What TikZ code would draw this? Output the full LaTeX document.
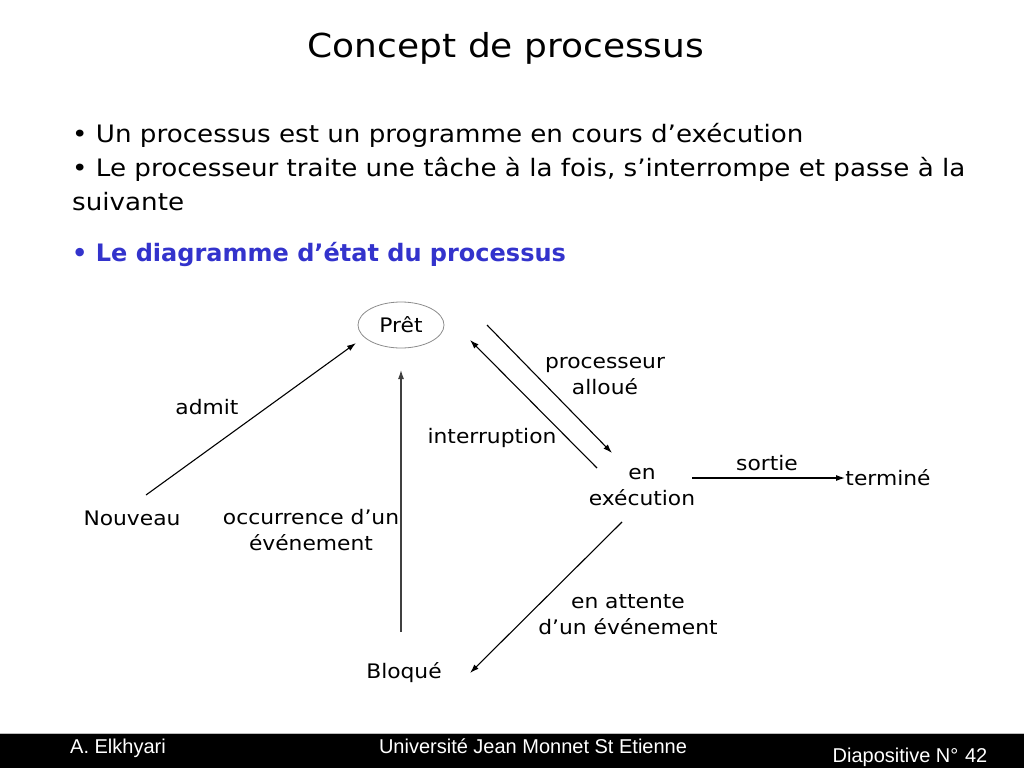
\documentclass[tikz,border=0pt]{standalone}
\usepackage{fontspec}
\setmainfont{DejaVu Sans}[FakeStretch=1.09]
\newfontfamily\grasfont{DejaVu Sans}
\newfontfamily\footfont{Liberation Sans}
\usetikzlibrary{shapes.geometric,arrows.meta}
\definecolor{titreblue}{RGB}{51,51,204}
\definecolor{ellgray}{RGB}{140,140,140}
\definecolor{barline}{RGB}{190,190,190}
\begin{document}
\begin{tikzpicture}[x=1pt,y=-1pt,
  etat/.style={font=\fontsize{20}{26}\selectfont,align=center,inner sep=0pt},
  trans/.style={-{Latex[length=9pt,width=6pt]},line width=1.1pt},
  puce/.style={anchor=base west,inner sep=0pt,font=\fontsize{24}{24}\selectfont},
  pied/.style={anchor=base,inner sep=0pt,text=white,font=\footfont\fontsize{20}{20}\selectfont}]
\useasboundingbox (0,0) rectangle (1024,768);
\node [anchor=base,inner sep=0pt,font=\fontsize{33}{33}\selectfont] (titre) at (506,57) {Concept de processus};
\node [puce] (l1) at (72,142) {• Un processus est un programme en cours d’exécution};
\node [puce] (l2) at (72,176) {• Le processeur traite une tâche à la fois, s’interrompe et passe à la};
\node [puce] (l3) at (72,210) {suivante};
\node [puce,text=titreblue,font=\grasfont\bfseries\fontsize{24}{24}\selectfont] (l4) at (72,261) {• Le diagramme d’état du processus};

\node [etat,ellipse,draw=ellgray,line width=0.8pt,minimum width=86pt,minimum height=46pt] (pret) at (401,325) {Prêt};
\node [etat] (nouveau) at (132,518) {Nouveau};
\node [etat] (exec) at (642,487) {en\\exécution};
\node [etat] (termine) at (888,478) {terminé};
\node [etat] (bloque) at (404,673) {Bloqué};

\node [etat] (admit) at (207,407) {admit};
\node [etat] (alloue) at (605,376) {processeur\\alloué};
\node [etat] (interr) at (492,438) {interruption};
\node [etat] (sortie) at (767,463) {sortie};
\node [etat] (occur) at (311,530) {occurrence d’un\\événement};
\node [etat] (attente) at (628,615) {en attente\\d’un événement};

\draw [trans] ([shift={(14,-23)}]nouveau.center) -- ([shift={(-45,18)}]pret.center);
\draw [trans] ([shift={(86,0)}]pret.center) -- ([shift={(-30,-34)}]exec.center);
\draw [trans] ([shift={(-45,-19)}]exec.center) -- ([shift={(69,15)}]pret.center);
\draw [trans] ([shift={(50,-9)}]exec.center) -- ([shift={(-43,0)}]termine.center);
\draw [trans] ([shift={(-20,35)}]exec.center) -- ([shift={(66,0)}]bloque.center);
\draw [trans,draw=black!75] ([shift={(-3,-41)}]bloque.center) -- ([shift={(0,45)}]pret.center);

\fill (0,733) rectangle (1024,768);
\draw [barline] (0,733.5) -- (1024,733.5);
\node [pied] (auteur) at (118,753) {A. Elkhyari};
\node [pied] (univ) at (533,753) {Université Jean Monnet St Etienne};
\node [pied] (diapo) at (910,762) {Diapositive N°\,\,42};
\end{tikzpicture}
\end{document}
